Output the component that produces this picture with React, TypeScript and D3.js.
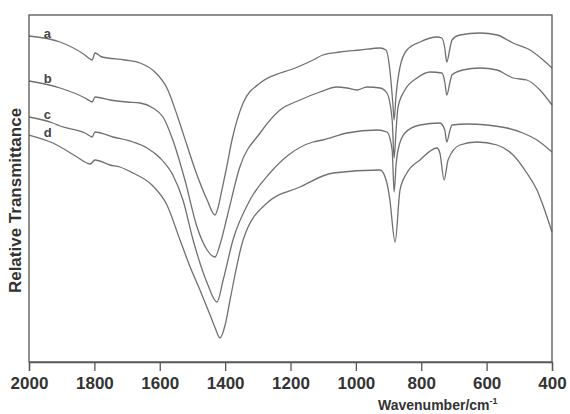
import React, { useEffect, useRef } from 'react';
import * as d3 from 'd3';

// wavenumber (cm-1), relative transmittance (a.u.)
const seriesA: [number, number][] = [
  [2000, 326], [1905, 320], [1829, 307], [1813, 303], [1807, 302], [1798, 309], [1777, 305],
  [1706, 302], [1660, 299], [1615, 290], [1578, 274], [1544, 244], [1517, 217], [1486, 187],
  [1455, 162], [1431, 147], [1422, 154], [1410, 172], [1397, 192], [1379, 222], [1345, 259],
  [1293, 279], [1232, 289], [1202, 292], [1131, 302], [1101, 307], [1049, 310], [987, 312],
  [926, 314], [908, 312], [896, 292], [887, 259], [883, 242], [877, 267], [865, 295],
  [844, 312], [804, 320], [752, 325], [737, 324], [728, 314], [722, 300], [712, 314],
  [706, 322], [682, 327], [620, 329], [568, 327], [519, 319], [467, 312], [427, 302], [400, 294],
];

const seriesB: [number, number][] = [
  [2000, 281], [1905, 274], [1829, 264], [1813, 261], [1807, 260], [1798, 265], [1752, 262],
  [1700, 260], [1660, 259], [1621, 254], [1590, 245], [1560, 222], [1523, 182], [1486, 135],
  [1455, 112], [1431, 105], [1416, 117], [1394, 145], [1355, 195], [1293, 229], [1232, 252],
  [1171, 262], [1110, 270], [1058, 275], [1027, 274], [997, 272], [966, 275], [926, 274],
  [905, 269], [889, 242], [883, 204], [877, 232], [871, 255], [850, 272], [813, 284],
  [773, 290], [737, 289], [728, 280], [722, 267], [712, 280], [706, 287], [673, 292],
  [620, 294], [568, 292], [538, 287], [519, 284], [477, 282], [437, 272], [400, 257],
];

const seriesC: [number, number][] = [
  [2000, 245], [1927, 239], [1905, 236], [1829, 229], [1813, 226], [1807, 225], [1798, 230],
  [1743, 225], [1682, 220], [1639, 214], [1599, 204], [1560, 187], [1529, 162], [1498, 122],
  [1455, 79], [1425, 60], [1406, 82], [1376, 122], [1324, 162], [1263, 189], [1202, 208],
  [1131, 220], [1101, 222], [1027, 229], [935, 232], [905, 230], [889, 212], [883, 170],
  [877, 197], [871, 212], [850, 229], [804, 237], [743, 239], [728, 232], [722, 220],
  [712, 232], [706, 237], [660, 238], [599, 237], [538, 234], [489, 229], [446, 222], [400, 210],
];

const seriesD: [number, number][] = [
  [2000, 227], [1927, 219], [1853, 205], [1823, 199], [1813, 198], [1798, 202], [1752, 197],
  [1722, 195], [1682, 189], [1624, 177], [1578, 157], [1538, 122], [1507, 95], [1477, 72],
  [1446, 47], [1428, 32], [1416, 24], [1400, 37], [1385, 62], [1345, 122], [1272, 159],
  [1171, 175], [1070, 189], [926, 192], [905, 179], [896, 162], [880, 120], [865, 172],
  [844, 189], [804, 202], [752, 214], [743, 209], [730, 182], [718, 202], [682, 217],
  [630, 220], [568, 217], [519, 207], [477, 189], [446, 172], [428, 157], [400, 130],
];

const seriesNames = ['a', 'b', 'c', 'd'];
const xTicks = [2000, 1800, 1600, 1400, 1200, 1000, 800, 600, 400];

const width = 570;
const height = 414;
const margin = { top: 15, right: 18, bottom: 52, left: 29 };
const font = "'Liberation Sans', Arial, sans-serif";

function Spectra() {
  const svgRef = useRef<SVGSVGElement>(null);

  useEffect(() => {
    const svg = d3.select(svgRef.current);
    svg.selectAll('*').remove();

    const innerWidth = width - margin.left - margin.right;
    const innerHeight = height - margin.top - margin.bottom;

    const x = d3.scaleLinear().domain([2000, 400]).range([margin.left, margin.left + innerWidth]);
    const y = d3.scaleLinear().domain([0, 347]).range([margin.top + innerHeight, margin.top]);

    const line = d3.line<[number, number]>()
      .x(d => x(d[0]))
      .y(d => y(d[1]))
      .curve(d3.curveMonotoneX);

    const all = [seriesA, seriesB, seriesC, seriesD];

    svg.append('g')
      .selectAll('path')
      .data(all)
      .enter()
      .append('path')
      .attr('d', d => line(d))
      .attr('fill', 'none')
      .attr('stroke', '#707070')
      .attr('stroke-width', 1.3);

    svg.append('g')
      .selectAll('text')
      .data(all)
      .enter()
      .append('text')
      .attr('x', x(1955))
      .attr('y', d => y(d[0][1]) + 2)
      .style('font-family', font)
      .style('font-size', '13px')
      .style('font-weight', 'bold')
      .attr('fill', '#444')
      .text((d, i) => seriesNames[i]);

    // frame
    svg.append('rect')
      .attr('x', margin.left)
      .attr('y', margin.top)
      .attr('width', innerWidth)
      .attr('height', innerHeight)
      .attr('fill', 'none')
      .attr('stroke', '#555')
      .attr('stroke-width', 1.3);

    const xAxis = svg.append('g')
      .attr('transform', `translate(0, ${margin.top + innerHeight})`)
      .call(d3.axisBottom(x).tickValues(xTicks).tickSize(9).tickPadding(6).tickFormat(d3.format('d')));
    xAxis.select('.domain').attr('stroke', '#555').attr('stroke-width', 1.3);
    xAxis.selectAll('line').attr('stroke', '#555').attr('stroke-width', 1.3);
    xAxis.selectAll('text')
      .attr('fill', '#333')
      .style('font-family', font)
      .style('font-size', '17px')
      .style('font-weight', 'bold');

    const xt = svg.append('text')
      .attr('x', 378)
      .attr('y', 410)
      .attr('fill', '#333')
      .style('font-family', font)
      .style('font-size', '14px')
      .style('font-weight', 'bold');
    xt.append('tspan').text('Wavenumber/cm');
    xt.append('tspan').attr('dy', -6).style('font-size', '9px').text('-1');

    svg.append('text')
      .attr('transform', `translate(21, ${margin.top + innerHeight / 2 + 12}) rotate(-90)`)
      .attr('text-anchor', 'middle')
      .attr('fill', '#333')
      .style('font-family', font)
      .style('font-size', '17px')
      .style('font-weight', 'bold')
      .text('Relative Transmittance');
  }, []);

  return <svg ref={svgRef} width={width} height={height} style={{ position: 'absolute', left: 0, top: 0, background: '#fff' }} />;
}

export default function App() {
  return <Spectra />;
}
